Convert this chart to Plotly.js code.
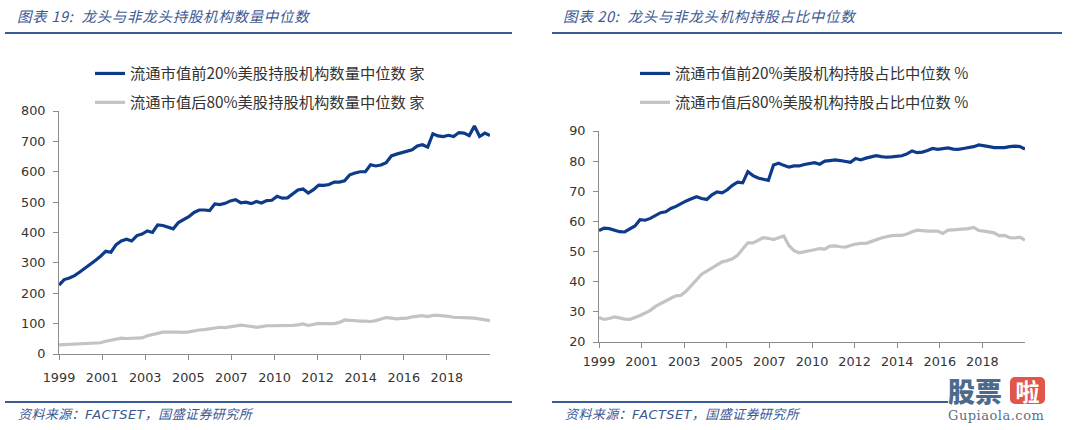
<!DOCTYPE html>
<html><head><meta charset="utf-8">
<script src="https://cdn.plot.ly/plotly-3.0.1.min.js"></script>
<style>
body{margin:0;width:1080px;height:430px;background:#fff;position:relative;overflow:hidden;font-family:"Noto Sans CJK SC",sans-serif;}
.hdr{position:absolute;top:5px;font-style:italic;color:#3b5894;font-size:14.5px;white-space:nowrap;letter-spacing:0.7px;}
.rule{position:absolute;height:2px;background:#3a5a98;}
.src{position:absolute;top:404px;font-style:italic;color:#3b5894;font-size:13px;white-space:nowrap;letter-spacing:0.4px;}
.src b{font-family:"DejaVu Sans";font-weight:normal;font-size:13px;}
#c1{position:absolute;left:0;top:0;width:540px;height:430px;}
#c2{position:absolute;left:540px;top:0;width:540px;height:430px;}
.logo{position:absolute;left:948px;top:377px;width:110px;height:53px;}
.logo .gp{position:absolute;left:0;top:0px;font-size:27px;line-height:27px;height:27px;font-weight:900;color:#4d6a8c;}
.logo .la{position:absolute;left:62px;top:0px;width:35px;height:27px;background:#e0574a;border-radius:5px;color:#fff;font-size:24px;line-height:27px;text-align:center;font-weight:700;}
.logo .url{position:absolute;left:0;top:31px;font-family:"DejaVu Serif";font-size:13px;line-height:15px;color:#5a6f8a;letter-spacing:0.5px;}
</style></head>
<body>
<div class="hdr" style="left:17px;">图表 19:&nbsp; 龙头与非龙头持股机构数量中位数</div>
<div class="rule" style="left:5px;width:507px;top:32px;"></div>
<div class="hdr" style="left:563px;">图表 20:&nbsp; 龙头与非龙头机构持股占比中位数</div>
<div class="rule" style="left:552px;width:510px;top:32px;"></div>
<div id="c1"></div>
<div id="c2"></div>
<div class="rule" style="left:5px;width:507px;top:401px;"></div>
<div class="rule" style="left:552px;width:396px;top:401px;"></div>
<div class="src" style="left:18px;">资料来源：<b>FACTSET</b>，国盛证券研究所</div>
<div class="src" style="left:565px;">资料来源：<b>FACTSET</b>，国盛证券研究所</div>
<div class="logo"><div class="gp">股票</div><div class="la">啦</div><div class="url">Gupiaola.com</div></div>
<script>
// Tick labels (shared)
const yearLabels = ['1999','2001','2003','2005','2007','2010','2012','2014','2016','2018'];

// Chart 19: median number of institutional holders
const countTop20 = [227,245,250,258,270,282,294,308,322,338,335,360,372,378,372,390,395,405,400,425,423,418,412,433,443,452,466,474,474,472,494,492,496,504,508,498,500,495,502,497,505,506,519,513,514,528,540,543,530,541,556,555,558,566,566,570,590,596,600,600,623,619,622,630,652,658,663,666,672,685,689,681,725,718,716,720,716,729,727,719,751,716,727,719];
const countBottom80 = [30,31,31,32,33,35,35,36,37,42,46,49,52,51,52,52,53,60,65,68,72,73,72,72,71,73,77,79,80,82,86,88,87,90,92,95,93,90,88,90,93,93,93,92,93,94,96,99,94,98,101,100,99,100,104,112,111,109,108,108,107,110,114,120,118,116,117,118,122,125,126,123,127,127,126,124,121,121,120,119,118,115,114,110];

// Chart 20: median institutional ownership %
const pctTop20 = [57,57.8,57.6,57,56.6,56.5,57.5,58.5,60.6,60.4,61,62,62.9,63.2,64.3,65,66,66.8,67.5,68.2,67.6,67.3,68.8,69.8,69.5,70.5,72,73,72.8,76.5,75.2,74.4,74,73.6,78.7,79.3,78.6,78,78.4,78.4,78.9,79.3,79.5,79,80,80.2,80.4,80.2,79.9,79.6,80.9,80.4,81,81.5,81.8,81.5,81.3,81.4,81.5,81.8,82.4,83.4,82.8,83,83.5,84.2,83.9,84.1,84.4,84,83.9,84.2,84.4,84.8,85.4,85.2,84.8,84.5,84.4,84.5,84.8,85,84.8,84];
const pctBottom80 = [28.1,27.5,27.8,28.3,28,27.6,27.5,28.1,28.8,29.6,30.5,31.8,32.8,33.5,34.5,35.3,35.5,36.9,38.8,40.8,42.5,43.5,44.6,45.8,46.6,47,47.6,48.8,51,52.9,52.9,53.8,54.6,54.4,54,54.6,55.2,52,50.3,49.6,49.9,50.1,50.6,51,50.8,51.8,51.9,51.6,51.5,52,52.5,52.7,52.7,53.3,54,54.5,54.9,55.3,55.4,55.4,55.8,56.6,57.1,56.9,56.8,56.8,56.8,56,57.1,57.2,57.3,57.4,57.6,58,57,56.8,56.5,56.2,55.2,55.4,54.6,54.5,54.8,53.8];

const names19 = ['流通市值前20%美股持股机构数量中位数 家','流通市值后80%美股持股机构数量中位数 家'];
const names20 = ['流通市值前20%美股机构持股占比中位数 %','流通市值后80%美股机构持股占比中位数 %'];

const BLUE = '#0d3b8a', GRAY = '#c3c3c3';
const tickFont = {family:'DejaVu Sans', size:12.8, color:'#333'};

function idx(arr){ return arr.map((_,i)=>i); }

function build(div, top, bottom, names, yrange, ydtick, margin, legPos, xstand){
  const N = top.length;
  const tickvals = yearLabels.map((_,i)=> i*(N-1)/10);
  const traces = [
    {x: idx(top), y: top, type:'scatter', mode:'lines', name:names[0], legendgroup:'a', line:{color:BLUE,width:3.2}},
    {x: idx(bottom), y: bottom, type:'scatter', mode:'lines', name:names[1], legendgroup:'b', line:{color:GRAY,width:3.2}}
  ];
  const layout = {
    width:540, height:430, margin:Object.assign({autoexpand:false}, margin),
    paper_bgcolor:'rgba(0,0,0,0)', plot_bgcolor:'rgba(0,0,0,0)',
    showlegend:true,
    legend:{xref:'container', yref:'container', x:legPos[0], y:legPos[1], xanchor:'left', yanchor:'top',
            font:{family:'Noto Sans CJK SC', size:15.3, color:'#333'}, tracegroupgap:6, bgcolor:'rgba(0,0,0,0)'},
    xaxis:{range:[0,N-1], tickvals:tickvals, ticktext:yearLabels, tickangle:0, showgrid:false, zeroline:false,
           showline:true, linecolor:'#8c8c8c', linewidth:1, ticks:'outside', ticklen:5, tickcolor:'#8c8c8c',
           tickfont:tickFont, fixedrange:true, automargin:false, ticklabelstandoff:xstand},
    yaxis:{range:yrange, dtick:ydtick, showgrid:false, zeroline:false,
           showline:true, linecolor:'#8c8c8c', linewidth:1, ticks:'outside', ticklen:5, tickcolor:'#8c8c8c',
           tickfont:tickFont, fixedrange:true, automargin:false, ticklabelstandoff:5}
  };
  Plotly.newPlot(div, traces, layout, {staticPlot:true, displayModeBar:false});
}

build('c1', countTop20, countBottom80, names19, [0,800], 100, {l:59,r:50,t:111,b:76,pad:0}, [90/540, 1-57/430], 7);
build('c2', pctTop20, pctBottom80, names20, [20,90], 10, {l:59,r:55,t:131,b:88,pad:0}, [95/540, 1-57/430], 3);
</script>
</body></html>
